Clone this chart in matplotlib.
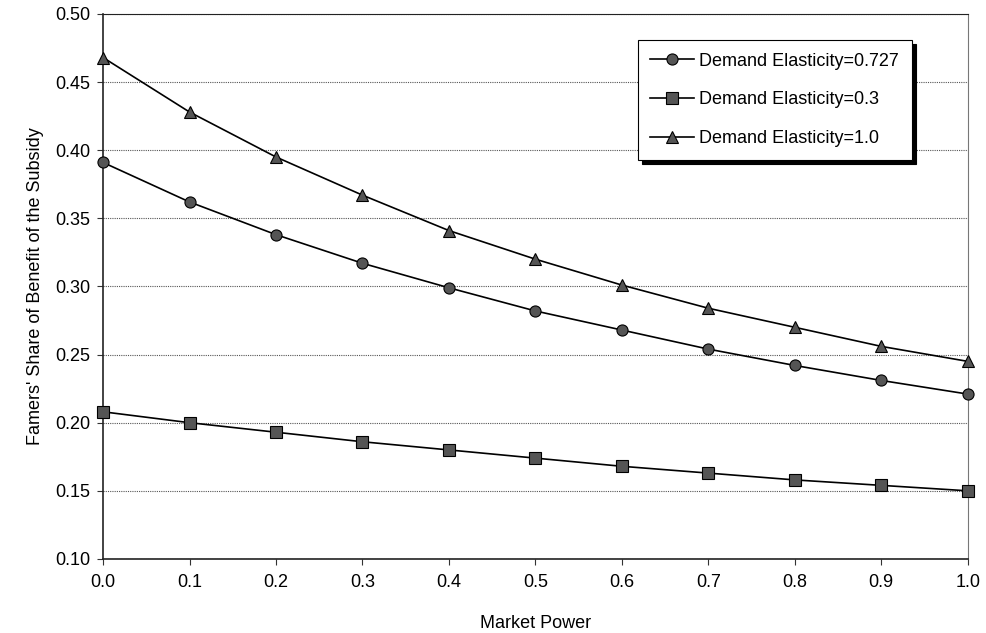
import matplotlib.pyplot as plt

plt.rcParams['font.family'] = ['Liberation Sans', 'DejaVu Sans']

market_power = [0.0, 0.1, 0.2, 0.3, 0.4, 0.5, 0.6, 0.7, 0.8, 0.9, 1.0]
share_e0727 = [0.391, 0.362, 0.338, 0.317, 0.299, 0.282, 0.268, 0.254, 0.242, 0.231, 0.221]
share_e03 = [0.208, 0.200, 0.193, 0.186, 0.180, 0.174, 0.168, 0.163, 0.158, 0.154, 0.150]
share_e10 = [0.468, 0.428, 0.395, 0.367, 0.341, 0.320, 0.301, 0.284, 0.270, 0.256, 0.245]

fig = plt.figure(figsize=(9.86, 6.33), dpi=100)
ax = fig.add_axes([0.1045, 0.117, 0.877, 0.861])

mk = dict(color='black', lw=1.2, markersize=8, markerfacecolor='#555555',
          markeredgecolor='black', markeredgewidth=0.8, clip_on=False, zorder=3)
ax.plot(market_power, share_e0727, marker='o', label='Demand Elasticity=0.727', **mk)
ax.plot(market_power, share_e03, marker='s', label='Demand Elasticity=0.3', **mk)
ax.plot(market_power, share_e10, marker='^', label='Demand Elasticity=1.0', **mk)

ax.set_xlim(0, 1.0)
ax.set_ylim(0.10, 0.50)
ax.set_xticks([i / 10 for i in range(11)])
ax.set_xticklabels([f'{i / 10:.1f}' for i in range(11)])
ax.set_yticks([0.10 + 0.05 * i for i in range(9)])
ax.set_yticklabels([f'{0.10 + 0.05 * i:.2f}' for i in range(9)])
ax.tick_params(labelsize=13, direction='out', length=4, width=0.8, color='#333333')
ax.tick_params(axis='x', pad=7)
ax.tick_params(axis='y', pad=5)

ax.yaxis.grid(True, linestyle=(0, (1, 1)), color='#555555', linewidth=0.8)
ax.set_axisbelow(True)

for side in ['left', 'bottom']:
    ax.spines[side].set_linestyle((0, (1, 1)))
    ax.spines[side].set_color('#222222')
    ax.spines[side].set_linewidth(1.2)
ax.spines['top'].set_color('#222222')
ax.spines['top'].set_linewidth(0.8)
ax.spines['right'].set_color('#777777')
ax.spines['right'].set_linewidth(0.8)

ax.set_xlabel('Market Power', fontsize=13, labelpad=17)
ax.set_ylabel("Famers' Share of Benefit of the Subsidy", fontsize=13, labelpad=8)

leg = ax.legend(loc='upper right', bbox_to_anchor=(0.935, 0.952), borderaxespad=0,
                fontsize=13, fancybox=False, edgecolor='black', framealpha=1,
                shadow={'color': 'black', 'alpha': 1, 'ox': 3, 'oy': -3},
                borderpad=0.7, labelspacing=1.2, handlelength=2.4, handletextpad=0.3)
leg.get_frame().set_linewidth(0.8)

fig.savefig('out.png', dpi=100)
